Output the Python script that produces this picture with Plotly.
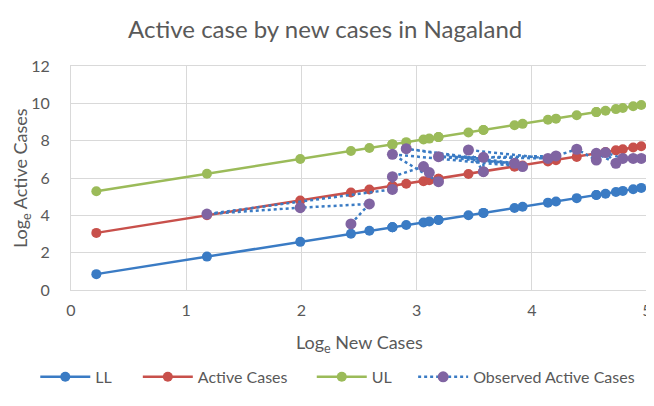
import plotly.graph_objects as go

# Data (loge new cases, loge active cases), in data order
log_new_cases = [0.22, 2.43, 2.59, 1.99, 1.18, 2.79, 2.79, 3.06, 3.11, 3.19, 2.79, 3.92, 2.91, 3.85,
                 3.19, 4.14, 3.45, 3.58, 3.58, 4.21, 4.39, 4.56, 4.56, 4.73, 4.64, 4.79, 4.88, 4.95]
ll_values = [0.85, 3.01, 3.17, 2.58, 1.79, 3.36, 3.36, 3.62, 3.67, 3.75, 3.36, 4.46, 3.48, 4.39,
             3.75, 4.68, 4.00, 4.13, 4.13, 4.74, 4.92, 5.09, 5.09, 5.25, 5.16, 5.31, 5.40, 5.47]
active_values = [3.06, 5.22, 5.38, 4.79, 4.00, 5.57, 5.57, 5.83, 5.88, 5.96, 5.57, 6.67, 5.69, 6.60,
                 5.96, 6.89, 6.21, 6.34, 6.34, 6.95, 7.13, 7.30, 7.30, 7.48, 7.39, 7.54, 7.63, 7.70]
ul_values = [5.29, 7.45, 7.61, 7.02, 6.23, 7.80, 7.80, 8.06, 8.11, 8.19, 7.80, 8.90, 7.92, 8.83,
             8.19, 9.12, 8.44, 8.57, 8.57, 9.18, 9.36, 9.53, 9.53, 9.69, 9.60, 9.75, 9.84, 9.91]
observed_values = [None, 3.54, 4.61, 4.41, 4.07, 5.39, 6.07, 6.61, 6.29, 5.80, 7.27, 6.61, 7.57, 6.79,
                   7.14, 7.05, 7.50, 6.34, 7.11, 7.18, 7.54, 6.96, 7.32, 6.79, 7.36, 7.05, 7.05, 7.05]

x_ticks = [0, 1, 2, 3, 4, 5]
y_ticks = [0, 2, 4, 6, 8, 10, 12]

BLUE = "#3A7BC4"
RED = "#C8504B"
GREEN = "#9BBB59"
PURPLE = "#8064A2"
TEXT = "#595959"
GRID = "#D9D9D9"
FONT = "Lato"

fig = go.Figure()

def model_trace(name, y, color, legend):
    return go.Scatter(x=log_new_cases, y=y, name=name, mode="lines+markers",
                      line=dict(color=color, width=2.5),
                      marker=dict(color=color, size=10), legend=legend)

fig.add_trace(model_trace("LL", ll_values, BLUE, "legend"))
fig.add_trace(model_trace("Active Cases", active_values, RED, "legend2"))
fig.add_trace(model_trace("UL", ul_values, GREEN, "legend3"))
fig.add_trace(go.Scatter(x=log_new_cases, y=observed_values, name="Observed Active Cases",
                         mode="lines+markers",
                         line=dict(color=BLUE, width=2.5, dash="dot"),
                         marker=dict(color=PURPLE, size=11), legend="legend4"))

def legend_at(x):
    return dict(orientation="h", x=x, xanchor="left", y=-0.388, yanchor="middle",
                font=dict(size=16, color=TEXT, family=FONT), itemwidth=50,
                bgcolor="rgba(0,0,0,0)")

fig.update_layout(
    width=646, height=398,
    margin=dict(l=63, r=7, t=58, b=116),
    paper_bgcolor="white", plot_bgcolor="white",
    font=dict(family=FONT, color=TEXT, size=15),
    title=dict(text="Active case by new cases in Nagaland", x=0.491, xanchor="center",
               y=0.945, yanchor="middle", font=dict(size=24, color=TEXT, family=FONT)),
    showlegend=True,
    legend=legend_at(-0.062),
    legend2=legend_at(0.116),
    legend3=legend_at(0.418),
    legend4=legend_at(0.594),
    annotations=[
        dict(text="Log<sub>e</sub> New Cases", xref="paper", yref="paper", x=0.5, y=0,
             xanchor="center", yanchor="middle", yshift=-53, showarrow=False,
             font=dict(size=18, color=TEXT, family=FONT)),
        dict(text="Log<sub>e</sub> Active Cases", xref="paper", yref="paper", x=0, y=0.5,
             xanchor="center", yanchor="middle", xshift=-50, textangle=-90, showarrow=False,
             font=dict(size=18, color=TEXT, family=FONT)),
    ],
)

fig.update_xaxes(range=[0, 5], tickvals=x_ticks, ticktext=[str(v) for v in x_ticks],
                 showgrid=True, gridcolor=GRID, gridwidth=1, zeroline=False,
                 showline=True, linecolor=GRID, linewidth=1, mirror=True,
                 ticks="outside", ticklen=6, tickcolor="rgba(0,0,0,0)",
                 ticklabeloverflow="allow", automargin=False,
                 tickfont=dict(size=16, color=TEXT))
fig.update_yaxes(range=[0, 12], tickvals=y_ticks, ticktext=[str(v) for v in y_ticks],
                 showgrid=True, gridcolor=GRID, gridwidth=1, zeroline=False,
                 showline=True, linecolor=GRID, linewidth=1, mirror=True,
                 ticks="outside", ticklen=17, tickcolor="rgba(0,0,0,0)",
                 ticklabeloverflow="allow", automargin=False,
                 tickfont=dict(size=16, color=TEXT))

fig.write_html("out.html")
